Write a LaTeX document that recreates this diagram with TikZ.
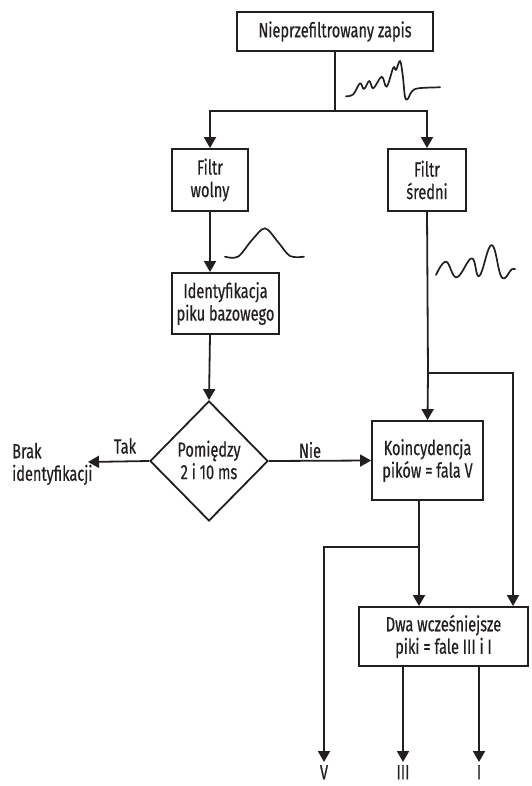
\documentclass[tikz,border=0pt]{standalone}
\usepackage{fontspec}
\setmainfont[FakeStretch=0.71,FakeBold=0.5]{Fira Sans}
\usetikzlibrary{arrows.meta,shapes.geometric}
\definecolor{ink}{HTML}{231F20}
\begin{document}
\begin{tikzpicture}[x=1pt,y=-1pt,
  every node/.style={text=ink,font=\fontsize{20.5}{22.5}\selectfont},
  box/.style={draw=ink,line width=1.8pt,inner sep=0pt,align=center},
  conn/.style={draw=ink,line width=1.8pt},
  arr/.style={conn,-{Triangle[width=12pt,length=11pt]}},
  wave/.style={draw=ink,line width=1.7pt,line cap=round,line join=round},
  lbl/.style={inner sep=0pt}
]
\useasboundingbox (0,0) rectangle (531,786);

% boxes
\node[box,minimum width=196pt,minimum height=39pt] (top) at (335,31.5) {Nieprzefiltrowany zapis};
\node[box,minimum width=76pt,minimum height=62pt] (fw) at (210,180) {Filtr\\wolny};
\node[box,minimum width=78pt,minimum height=62pt] (fs) at (427,180) {Filtr\\średni};
\node[box,minimum width=107pt,minimum height=61pt] (ident) at (225.5,303.5) {Identyfikacja\\piku bazowego};
\node[draw=ink,line width=1.8pt,diamond,inner sep=0pt,minimum width=118pt,minimum height=120pt] (dec) at (209,461) {};
\node[lbl,align=center] (dectext) at (209,460) {Pomiędzy\\2 i 10 ms};
\node[box,minimum width=111pt,minimum height=79pt] (koinc) at (427.5,460.5) {Koincydencja\\pików = fala V};
\node[box,minimum width=169pt,minimum height=59pt] (dwa) at (443.5,636.5) {Dwa wcześniejsze\\piki = fale III i I};

% labels
\node[lbl,align=left,anchor=west] (brak) at (12,464) {Brak\\identyfikacji};
\node[lbl] (tak) at (125,446) {Tak};
\node[lbl] (nie) at (310,450) {Nie};
\node[inner sep=0pt,anchor=north] (outV) at (324,765) {V};
\node[inner sep=0pt,anchor=north] (outIII) at (403,765) {III};
\node[inner sep=0pt,anchor=north] (outI) at (479,765) {I};

% junctions
\coordinate (j1) at (335,111);
\coordinate (j2) at (428,373);
\coordinate (j3) at (513,373);
\coordinate (kout) at (419,500);
\coordinate (j4) at (419,547);
\coordinate (tipB) at (88,462);

% connectors
\draw[conn] (top.south) -- (j1);
\draw[arr] (j1) -| (fw.north);
\draw[arr] (j1) -| (fs.north);
\draw[arr] (fw.south) -- (fw.south |- ident.north);
\draw[arr] (fw.south |- ident.south) -- (dec.north);
\draw[arr] (dec.west) -- (tipB);
\draw[arr] (dec.east) -- (koinc.west);
\draw[conn] (fs.south) -- (j2);
\draw[arr] (j2) -- (koinc.north);
\draw[arr] (j2) -- (j3) -- (j3 |- dwa.north);
\draw[arr] (kout) -- (kout |- dwa.north);
\draw[arr,shorten >=3pt] (j4) -| (outV.north);
\draw[arr,shorten >=3pt] (outIII |- dwa.south) -- (outIII.north);
\draw[arr,shorten >=3pt] (outI |- dwa.south) -- (outI.north);

% waveforms
\draw[wave] plot[smooth,tension=0.6] coordinates {(346,96.3) (353.3,94.3) (360,83.3) (364,89) (369.3,81) (373.3,88.3) (381.7,76.7) (386.7,86.7) (393.3,67.7) (396,70) (400,61) (402.7,75) (405,96.7) (407.7,99) (411.7,91.7) (418.3,88.3) (440,87.3)};
\draw[wave] plot[smooth,tension=0.55] coordinates {(225,256.7) (238,256.7) (252,240) (265,228.3) (278,242) (290,256) (304,256.7)};
\draw[wave] plot[smooth,tension=0.7] coordinates {(436,275) (446,261.7) (456.7,277.3) (471.7,258.3) (479.3,276) (491.7,245) (501.7,277.3) (511.7,269.3) (515,269.3)};
\end{tikzpicture}
\end{document}
